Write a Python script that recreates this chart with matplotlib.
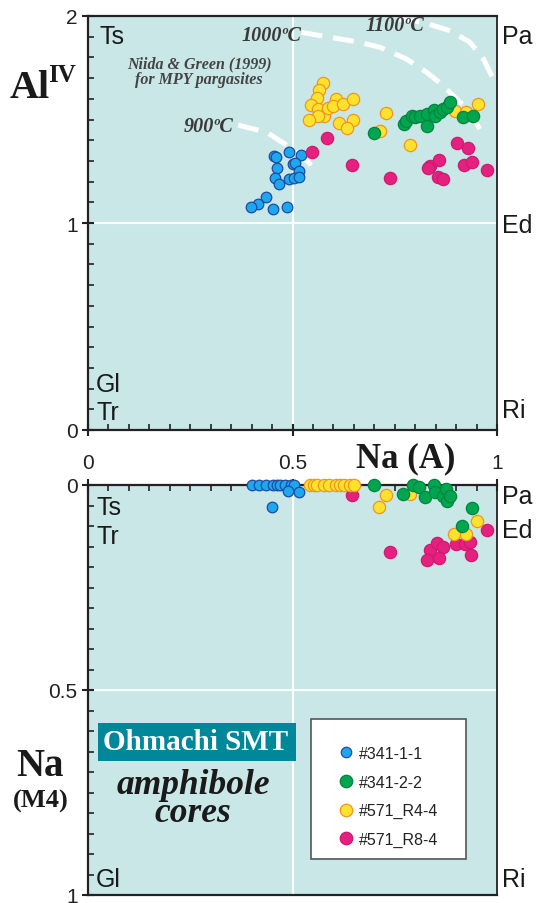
import matplotlib
matplotlib.use("Agg")
import matplotlib.pyplot as plt
from matplotlib.ticker import MultipleLocator, FixedLocator
from matplotlib.patches import Rectangle
from matplotlib.lines import Line2D
import matplotlib.transforms as mtransforms

# ---------------- data ----------------
# Top panel: Na(A) vs Al(IV)
blue_top_x = [0.455, 0.460, 0.492, 0.520, 0.463, 0.500, 0.506, 0.516, 0.457, 0.467,
              0.492, 0.504, 0.515, 0.434, 0.416, 0.399, 0.452, 0.487]
blue_top_y = [1.322, 1.317, 1.341, 1.329, 1.264, 1.285, 1.290, 1.251, 1.216, 1.188,
              1.213, 1.217, 1.222, 1.127, 1.090, 1.078, 1.069, 1.078]

yellow_top_x = [0.575, 0.566, 0.561, 0.545, 0.563, 0.578, 0.563, 0.541, 0.588, 0.606,
                0.598, 0.624, 0.649, 0.647, 0.614, 0.634, 0.728, 0.714, 0.788, 0.897,
                0.924, 0.954]
yellow_top_y = [1.675, 1.644, 1.602, 1.570, 1.551, 1.515, 1.515, 1.496, 1.554, 1.599,
                1.564, 1.573, 1.599, 1.499, 1.483, 1.457, 1.531, 1.443, 1.378, 1.543,
                1.538, 1.575]

green_top_x = [0.700, 0.773, 0.778, 0.791, 0.800, 0.812, 0.828, 0.828, 0.846, 0.848,
               0.860, 0.869, 0.877, 0.885, 0.916, 0.941]
green_top_y = [1.433, 1.478, 1.494, 1.515, 1.510, 1.518, 1.470, 1.527, 1.547, 1.518,
               1.537, 1.551, 1.559, 1.586, 1.511, 1.518]

pink_top_x = [0.584, 0.548, 0.645, 0.738, 0.836, 0.832, 0.859, 0.856, 0.869, 0.903,
              0.930, 0.920, 0.939, 0.976]
pink_top_y = [1.409, 1.345, 1.280, 1.219, 1.277, 1.264, 1.304, 1.220, 1.213, 1.386,
              1.362, 1.280, 1.296, 1.256]

# Bottom panel: Na(A) vs Na(M4)
blue_bot_x = [0.400, 0.418, 0.436, 0.452, 0.462, 0.470, 0.482, 0.497, 0.504, 0.490, 0.517, 0.451]
blue_bot_y = [0.000, 0.000, 0.000, 0.000, 0.000, 0.000, 0.000, 0.000, 0.000, 0.014, 0.018, 0.053]

yellow_bot_x = [0.543, 0.552, 0.561, 0.577, 0.590, 0.606, 0.615, 0.626, 0.640, 0.650,
                0.729, 0.712, 0.787, 0.952, 0.895, 0.924]
yellow_bot_y = [0.000, 0.000, 0.000, 0.000, 0.000, 0.000, 0.000, 0.000, 0.000, 0.000,
                0.024, 0.054, 0.022, 0.087, 0.120, 0.120]

green_bot_x = [0.699, 0.794, 0.810, 0.771, 0.824, 0.846, 0.848, 0.869, 0.875, 0.877,
               0.885, 0.938, 0.914]
green_bot_y = [0.000, 0.000, 0.006, 0.022, 0.030, 0.000, 0.016, 0.026, 0.010, 0.038,
               0.028, 0.057, 0.099]

pink_bot_x = [0.646, 0.738, 0.836, 0.854, 0.867, 0.830, 0.858, 0.900, 0.922, 0.934, 0.936, 0.976]
pink_bot_y = [0.024, 0.164, 0.159, 0.141, 0.152, 0.182, 0.179, 0.144, 0.144, 0.140, 0.170, 0.110]

# Isotherms (Niida & Green 1999)
iso900_x = [0.367, 0.437, 0.489, 0.539, 0.561]
iso900_y = [1.473, 1.438, 1.372, 1.293, 1.245]
iso1000_x = [0.522, 0.592, 0.657, 0.714, 0.779, 0.828, 0.869, 0.901, 0.934, 0.958]
iso1000_y = [1.921, 1.897, 1.876, 1.849, 1.792, 1.728, 1.663, 1.599, 1.540, 1.454]
iso1100_x = [0.759, 0.820, 0.885, 0.934, 0.967, 0.993]
iso1100_y = [1.986, 1.969, 1.929, 1.873, 1.792, 1.686]

legend_labels = ["#341-1-1", "#341-2-2", "#571_R4-4", "#571_R8-4"]
x_ticks = [0, 0.5, 1]
x_tick_labels = ["0", "0.5", "1"]

# ---------------- style ----------------
BG = "#c8e7e6"
SPINE = "#222222"
styles = {
    "blue":   dict(fc="#1ea7ec", ec="#1d4ba6", s=58),
    "green":  dict(fc="#00a550", ec="#00853f", s=78),
    "yellow": dict(fc="#ffe22e", ec="#f0961e", s=78),
    "pink":   dict(fc="#e5207f", ec="#cf1a70", s=78),
}
SANS = ["Liberation Sans", "DejaVu Sans"]
SERIF = ["Liberation Serif", "DejaVu Serif"]

W, H = 547, 904
fig = plt.figure(figsize=(W / 100, H / 100), dpi=100)
fig.patch.set_facecolor("white")

def fx(px):
    return px / W

def fy(py):
    return 1 - py / H

ax1 = fig.add_axes([fx(88), fy(431), fx(497) - fx(88), fy(17) - fy(431)])
ax2 = fig.add_axes([fx(88), fy(896), fx(497) - fx(88), fy(486) - fy(896)])

for ax in (ax1, ax2):
    ax.set_facecolor(BG)
    for sp in ax.spines.values():
        sp.set_color(SPINE)
        sp.set_linewidth(1.6)
    ax.spines["right"].set_linewidth(1.3)
    ax.set_xlim(0, 1)

# ---- top axes ----
ax1.set_ylim(0, 2)
ax1.axvline(0.5, color="white", lw=1.5, zorder=1)
ax1.axhline(1.0, color="white", lw=1.5, zorder=1)
ax1.xaxis.set_major_locator(FixedLocator(x_ticks))
ax1.set_xticklabels(x_tick_labels)
ax1.xaxis.set_minor_locator(MultipleLocator(0.05))
ax1.yaxis.set_major_locator(FixedLocator([0, 1, 2]))
ax1.yaxis.set_minor_locator(MultipleLocator(0.1))
ax1.tick_params(axis="both", which="major", direction="inout", length=9, width=1.5,
                color=SPINE, labelsize=15, pad=3)
ax1.tick_params(axis="x", which="major", pad=12)
ax1.tick_params(axis="both", which="minor", direction="in", length=4, width=1.2, color=SPINE)
for lab in ax1.get_xticklabels() + ax1.get_yticklabels():
    lab.set_fontfamily(SANS)
    lab.set_color("#222222")

# ---- bottom axes ----
ax2.set_ylim(1, 0)
ax2.axvline(0.5, color="white", lw=1.5, zorder=1)
ax2.axhline(0.5, color="white", lw=1.5, zorder=1)
ax2.xaxis.tick_top()
ax2.xaxis.set_major_locator(FixedLocator(x_ticks))
ax2.xaxis.set_minor_locator(MultipleLocator(0.05))
ax2.set_xticklabels([])
ax2.yaxis.set_major_locator(FixedLocator([0, 0.5, 1]))
ax2.set_yticklabels(["0", "0.5", "1"])
ax2.yaxis.set_minor_locator(MultipleLocator(0.05))
ax2.tick_params(axis="both", which="major", direction="inout", length=9, width=1.5,
                color=SPINE, labelsize=15, pad=3)
ax2.tick_params(axis="both", which="minor", direction="in", length=4, width=1.2, color=SPINE)
for lab in ax2.get_yticklabels():
    lab.set_fontfamily(SANS)
    lab.set_color("#222222")

# ---- isotherms ----
for xs, ys in ((iso900_x, iso900_y), (iso1000_x, iso1000_y), (iso1100_x, iso1100_y)):
    ax1.plot(xs, ys, color="white", lw=3.6, dashes=(4.2, 2.2), solid_capstyle="butt",
             zorder=2, clip_on=False)

# ---- scatter ----
order = [("blue", blue_top_x, blue_top_y, blue_bot_x, blue_bot_y),
         ("pink", pink_top_x, pink_top_y, pink_bot_x, pink_bot_y),
         ("yellow", yellow_top_x, yellow_top_y, yellow_bot_x, yellow_bot_y),
         ("green", green_top_x, green_top_y, green_bot_x, green_bot_y)]
for z, (name, tx, ty, bx, by) in enumerate(order):
    st = styles[name]
    ax1.scatter(tx, ty, s=st["s"], facecolor=st["fc"], edgecolor=st["ec"], lw=0.9,
                zorder=3 + z, clip_on=False)
    ax2.scatter(bx, by, s=st["s"], facecolor=st["fc"], edgecolor=st["ec"], lw=0.9,
                zorder=3 + z, clip_on=False)

# ---- corner labels ----
lab_kw = dict(fontsize=18, family=SANS, color="#1a1a1a", va="center")
ax1.text(0.029, 1.903, "Ts", ha="left", **lab_kw)
ax1.text(0.020, 0.222, "Gl", ha="left", **lab_kw)
ax1.text(0.020, 0.087, "Tr", ha="left", **lab_kw)
tr1 = mtransforms.blended_transform_factory(ax1.transAxes, ax1.transData)
ax1.text(1.012, 1.903, "Pa", ha="left", transform=tr1, **lab_kw)
ax1.text(1.012, 0.990, "Ed", ha="left", transform=tr1, **lab_kw)
ax1.text(1.012, 0.097, "Ri", ha="left", transform=tr1, **lab_kw)

ax2.text(0.020, 0.054, "Ts", ha="left", **lab_kw)
ax2.text(0.020, 0.124, "Tr", ha="left", **lab_kw)
ax2.text(0.020, 0.961, "Gl", ha="left", **lab_kw)
tr2 = mtransforms.blended_transform_factory(ax2.transAxes, ax2.transData)
ax2.text(1.012, 0.027, "Pa", ha="left", transform=tr2, **lab_kw)
ax2.text(1.012, 0.110, "Ed", ha="left", transform=tr2, **lab_kw)
ax2.text(1.012, 0.961, "Ri", ha="left", transform=tr2, **lab_kw)

# ---- isotherm labels ----
iso_kw = dict(family=SERIF, fontweight="bold", fontstyle="italic", color="#3a3a3a",
              fontsize=14.5, va="center")
fig.text(fx(301), fy(36), "1000ºC", ha="right", **iso_kw)
fig.text(fx(395), fy(26), "1100ºC", ha="center", **iso_kw)
fig.text(fx(233), fy(127), "900ºC", ha="right", **iso_kw)
fig.text(fx(199), fy(72), "Niida & Green (1999)\nfor MPY pargasites", ha="center",
         va="center", family=SERIF, fontweight="bold", fontstyle="italic",
         color="#444444", fontsize=11.5, linespacing=0.95)

# ---- axis titles ----
fig.text(fx(10), fy(98), "Al", ha="left", va="baseline", family=SERIF,
         fontweight="bold", fontsize=29, color="#1a1a1a")
fig.text(fx(48), fy(82), "IV", ha="left", va="baseline", family=SERIF,
         fontweight="bold", fontsize=18, color="#1a1a1a")
fig.text(fx(406), fy(459), "Na (A)", ha="center", va="center", family=SERIF,
         fontweight="bold", fontsize=25, color="#1a1a1a")
fig.text(fx(40), fy(766), "Na", ha="center", va="center", family=SERIF,
         fontweight="bold", fontsize=28, color="#1a1a1a")
fig.text(fx(41), fy(801), "(M4)", ha="center", va="center", family=SERIF,
         fontweight="bold", fontsize=19, color="#1a1a1a")

# ---- Ohmachi box ----
fig.patches.append(Rectangle((fx(98), fy(762)), fx(296) - fx(98), fy(724) - fy(762),
                             transform=fig.transFigure, facecolor="#00889a",
                             edgecolor="none", zorder=10))
fig.text(fx(196), fy(743), "Ohmachi SMT", ha="center", va="center", family=SERIF,
         fontweight="bold", fontsize=21, color="white", zorder=11)
fig.text(fx(193), fy(800), "amphibole\ncores", ha="center", va="center", family=SERIF,
         fontweight="bold", fontstyle="italic", fontsize=25.5, color="#1a1a1a",
         linespacing=0.8, zorder=11)

# ---- legend ----
fig.patches.append(Rectangle((fx(311), fy(860)), fx(466) - fx(311), fy(720) - fy(860),
                             transform=fig.transFigure, facecolor="white",
                             edgecolor="#555555", lw=1.2, zorder=10))
handles = []
for name, ms in (("blue", 7.5), ("green", 9), ("yellow", 9), ("pink", 9)):
    st = styles[name]
    handles.append(Line2D([], [], ls="none", marker="o", markersize=ms,
                          markerfacecolor=st["fc"], markeredgecolor=st["ec"],
                          markeredgewidth=0.9))
leg = fig.legend(handles, legend_labels, loc="upper left",
                 bbox_to_anchor=(fx(331), fy(739)), bbox_transform=fig.transFigure,
                 frameon=False, borderpad=0, handlelength=0.9, handletextpad=0.35,
                 labelspacing=0.85, prop=dict(family=SANS, size=11.5))
leg.set_zorder(12)
for t in leg.get_texts():
    t.set_color("#222222")

fig.savefig("out.png", dpi=100)
